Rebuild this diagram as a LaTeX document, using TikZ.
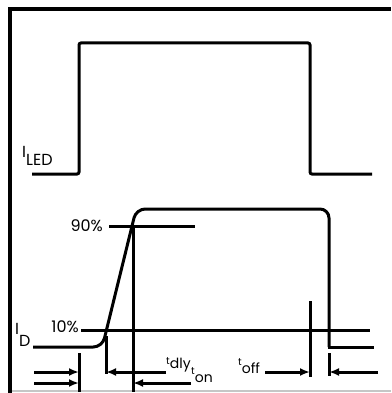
\documentclass[tikz,border=0pt]{standalone}
\usepackage{fontspec}
\setmainfont{Poppins}
\usetikzlibrary{arrows.meta}
\tikzset{
  frameline/.style={line width=4pt},
  wave/.style={line width=3pt},
  marker/.style={line width=3pt},
  dimarrow/.style={line width=3pt,-{Latex[length=10pt,width=8pt]}},
  lbl/.style={inner sep=0pt,font=\fontsize{16}{16}\selectfont},
  tlbl/.style={inner sep=0pt,anchor=base west,font=\fontsize{14}{14}\selectfont},
}
\newcommand{\tsub}[2]{{\fontsize{10}{10}\selectfont\raisebox{#2}{t}}#1}
\begin{document}
\begin{tikzpicture}[x=1pt,y=-1pt]
\useasboundingbox (0,0) rectangle (391,393);
% frame
\draw[frameline] (10,393) -- (10,9) -- (391,9);
\draw[gray!45,line width=1.5pt] (12,391) -- (391,391);
% LED waveform
\coordinate (l0) at (32,174);
\coordinate (l1) at (79,174);
\coordinate (l2) at (79,43);
\coordinate (l3) at (310,43);
\coordinate (l4) at (310,174);
\coordinate (l5) at (372,174);
\draw[wave,rounded corners=2pt] (l0) -- (l1) -- (l2) -- (l3) -- (l4) -- (l5);
% ID waveform
\coordinate (d0) at (33,347);
\coordinate (d1) at (102.3,347);
\coordinate (d2) at (136.2,209);
\coordinate (d3) at (329,209);
\coordinate (d4) at (329,347);
\coordinate (d5) at (372,347);
\draw[wave,rounded corners=9pt] (d0) -- (d1) -- (d2) -- (d3) -- (d4);
\draw[wave,line cap=rect] (d4) -- (d5);
% level lines
\coordinate (p90a) at (109,226);
\coordinate (p90b) at (195,226);
\coordinate (p10a) at (81,330);
\coordinate (p10b) at (370,330);
\draw[marker] (p90a) -- (p90b);
\draw[marker] (p10a) -- (p10b);
% vertical markers
\coordinate (v1a) at (79,353);  \coordinate (v1b) at (79,392);
\coordinate (v2a) at (106,336); \coordinate (v2b) at (106,374);
\coordinate (v3a) at (133,225); \coordinate (v3b) at (133,392);
\coordinate (v4a) at (310,301); \coordinate (v4b) at (310,377);
\coordinate (v5a) at (329,353); \coordinate (v5b) at (329,376);
\draw[marker] (v1a) -- (v1b);
\draw[marker] (v2a) -- (v2b);
\draw[marker] (v3a) -- (v3b);
\draw[marker] (v4a) -- (v4b);
\draw[marker] (v5a) -- (v5b);
% arrows
\coordinate (a1s) at (34,372);  \coordinate (a1e) at (79,372);
\coordinate (a2s) at (34,383);  \coordinate (a2e) at (79,383);
\coordinate (a3s) at (166,372); \coordinate (a3e) at (106,372);
\coordinate (a4s) at (191,383); \coordinate (a4e) at (133,383);
\coordinate (a5s) at (265,372); \coordinate (a5e) at (310,372);
\coordinate (a6s) at (378,372); \coordinate (a6e) at (329,372);
\draw[dimarrow] (a1s) -- (a1e);
\draw[dimarrow] (a2s) -- (a2e);
\draw[dimarrow] (a3s) -- (a3e);
\draw[dimarrow] (a4s) -- (a4e);
\draw[dimarrow] (a5s) -- (a5e);
\draw[dimarrow] (a6s) -- (a6e);
% labels
\node[lbl,anchor=base west] (iled) at (22,157) {I\raisebox{-9pt}{LED}};
\node[lbl,anchor=base west] (id) at (15,334) {I\raisebox{-12pt}{D}};
\node[lbl,anchor=base east] (n90) at (103,231) {90\%};
\node[lbl,anchor=base east] (n10) at (79,332) {10\%};
\node[tlbl] (tdly) at (166,368) {\tsub{dly}{4pt}};
\node[tlbl] (ton) at (191,382) {\tsub{on}{8pt}};
\node[tlbl] (toff) at (238,373) {\tsub{off}{8pt}};
\end{tikzpicture}
\end{document}
